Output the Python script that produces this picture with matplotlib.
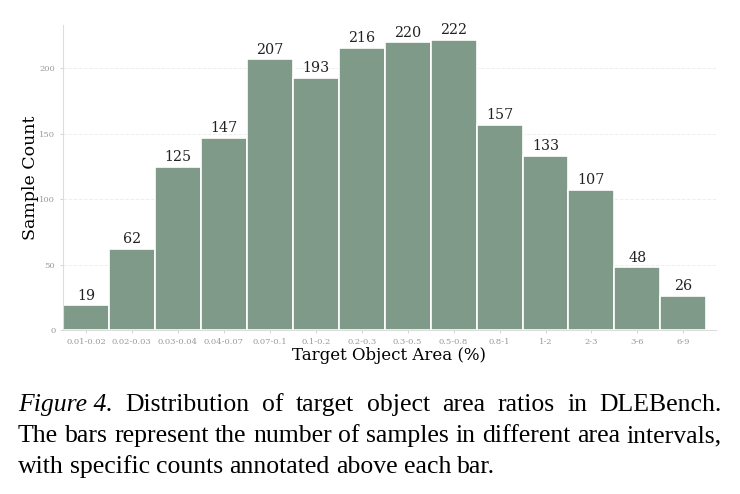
import numpy as np
import matplotlib
matplotlib.use('Agg')
from matplotlib import pyplot as plt

# area bins and sample counts
bins = ['0.01-0.02', '0.02-0.03', '0.03-0.04', '0.04-0.07', '0.07-0.1', '0.1-0.2',
        '0.2-0.3', '0.3-0.5', '0.5-0.8', '0.8-1', '1-2', '2-3', '3-6', '6-9']
counts = [19, 62, 125, 147, 207, 193, 216, 220, 222, 157, 133, 107, 48, 26]
yticks = [0, 50, 100, 150, 200]

fig = plt.figure(figsize=(7.4, 4.94), dpi=100)
ax = fig.add_axes([0.085, 0.332, 0.882, 0.617])

x = np.arange(len(bins))
ax.bar(x, counts, width=1.0, color='#7f9a88', edgecolor='white', linewidth=1.2, zorder=2)
for xi, c in zip(x, counts):
    ax.text(xi, c + 2, str(c), ha='center', va='bottom', family='DejaVu Serif',
            fontsize=10.3, color='#222222')

ax.set_xlim(-0.5, 13.7)
ax.set_ylim(0, max(counts) * 1.05)
ax.set_xticks(x)
ax.set_xticklabels(bins, family='DejaVu Serif', fontsize=6, color='#999999')
ax.set_yticks(yticks)
ax.set_yticklabels([str(t) for t in yticks], family='DejaVu Serif', fontsize=6, color='#999999')
ax.tick_params(axis='both', length=2.5, color='#cccccc', width=0.6, pad=3)
ax.grid(axis='y', linestyle='--', color='#eeeeee', linewidth=0.7, zorder=0)
for s in ['top', 'right']:
    ax.spines[s].set_visible(False)
for s in ['left', 'bottom']:
    ax.spines[s].set_color('#dddddd')
    ax.spines[s].set_linewidth(0.8)

ax.set_xlabel('Target Object Area (%)', family='DejaVu Serif', fontsize=12, labelpad=1)
ax.set_ylabel('Sample Count', family='DejaVu Serif', fontsize=12.5, labelpad=0)

# caption, justified lines between x0 and x1 (pixels)
cap = dict(family='Liberation Serif', fontsize=18.5, color='black', ha='left', va='baseline')
x0, x1 = 18, 722
lines = [
    ([('Figure 4.', 'italic')] + [(w, 'normal') for w in
      'Distribution of target object area ratios in DLEBench.'.split()], 411, True),
    ([(w, 'normal') for w in
      'The bars represent the number of samples in different area intervals,'.split()], 442, True),
    ([(w, 'normal') for w in
      'with specific counts annotated above each bar.'.split()], 473, False),
]
fig.canvas.draw()
r = fig.canvas.get_renderer()
for words, ypx, justify in lines:
    objs = [fig.text(0, 1 - ypx / 494, w, style=st, **cap) for w, st in words]
    widths = [o.get_window_extent(renderer=r).width for o in objs]
    gap = (x1 - x0 - sum(widths)) / (len(objs) - 1) if justify else 6.2
    pos = x0
    for o, wd in zip(objs, widths):
        o.set_x(pos / 740)
        pos += wd + gap

fig.savefig('out.png', dpi=100)
